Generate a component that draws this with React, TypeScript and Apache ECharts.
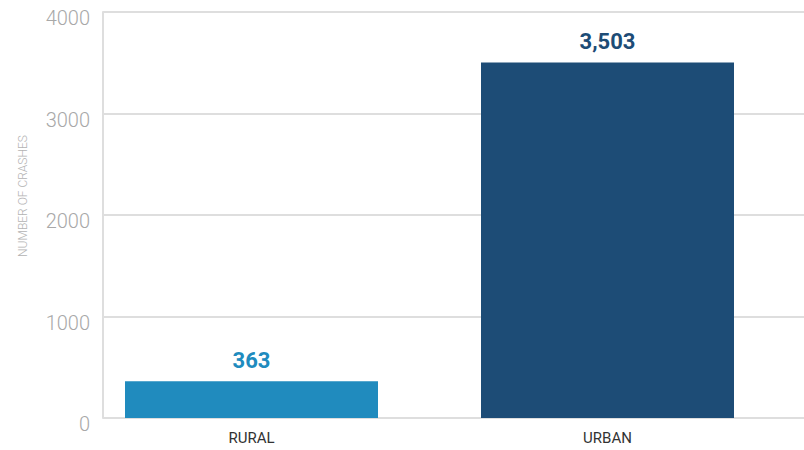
import React, { useEffect, useRef } from "react";
import * as echarts from "echarts";

const categories = ["RURAL", "URBAN"];
const crashes = [363, 3503];
const barColors = ["#208bbe", "#1d4c76"];
const yTicks = { min: 0, max: 4000, interval: 1000 };
const axisName = "NUMBER OF CRASHES";

export default function App() {
  const ref = useRef<HTMLDivElement>(null);
  useEffect(() => {
    if (!ref.current) return;
    const chart = echarts.init(ref.current, null, { renderer: "svg" });
    const font = "Roboto, 'DejaVu Sans Condensed', Arial, sans-serif";
    chart.setOption({
      animation: false,
      grid: [
        { left: 103, right: 0, top: 12, bottom: 32 },
        { left: 73.5, width: 712, top: 12, bottom: 32 },
      ],
      xAxis: [
        { gridIndex: 0, type: "category", data: categories, show: false },
        {
          gridIndex: 1,
          type: "category",
          data: categories,
          axisLine: { show: false },
          axisTick: { show: false },
          axisLabel: { color: "#333333", fontSize: 15, fontFamily: font, margin: 12 },
        },
      ],
      yAxis: [
        {
          gridIndex: 0,
          type: "value",
          min: yTicks.min,
          max: yTicks.max,
          interval: yTicks.interval,
          axisLine: { show: true, lineStyle: { color: "#dedede", width: 2 } },
          axisTick: { show: false },
          splitLine: { lineStyle: { color: "#dedede", width: 2 } },
          axisLabel: {
            color: "#a8a8a8",
            fontSize: 20,
            fontWeight: 300,
            fontFamily: font,
            margin: 13,
            formatter: (v: number) => String(v),
            verticalAlign: "top",
            lineHeight: 12,
          },
        },
        {
          gridIndex: 1,
          type: "value",
          min: yTicks.min,
          max: yTicks.max,
          show: false,
        },
      ],
      graphic: [
        {
          type: "text",
          x: 17,
          y: 196,
          rotation: Math.PI / 2,
          style: {
            text: axisName,
            fill: "#b3b3b3",
            fontSize: 12,
            fontWeight: 300,
            fontFamily: font,
            align: "center",
            verticalAlign: "top",
          },
        },
      ],
      series: [
        {
          type: "bar",
          xAxisIndex: 1,
          yAxisIndex: 1,
          barWidth: 253,
          data: crashes.map((v, i) => ({
            value: v,
            itemStyle: { color: barColors[i] },
            label: { color: barColors[i] },
          })),
          label: {
            show: true,
            position: "top",
            distance: 10,
            fontSize: 22,
            fontWeight: "bold",
            fontFamily: font,
            formatter: (p: any) => Number(p.value).toLocaleString("en-US"),
          },
        },
      ],
    });
    return () => chart.dispose();
  }, []);
  return <div ref={ref} style={{ width: 804, height: 450, position: "absolute", left: 0, top: 0 }} />;
}
